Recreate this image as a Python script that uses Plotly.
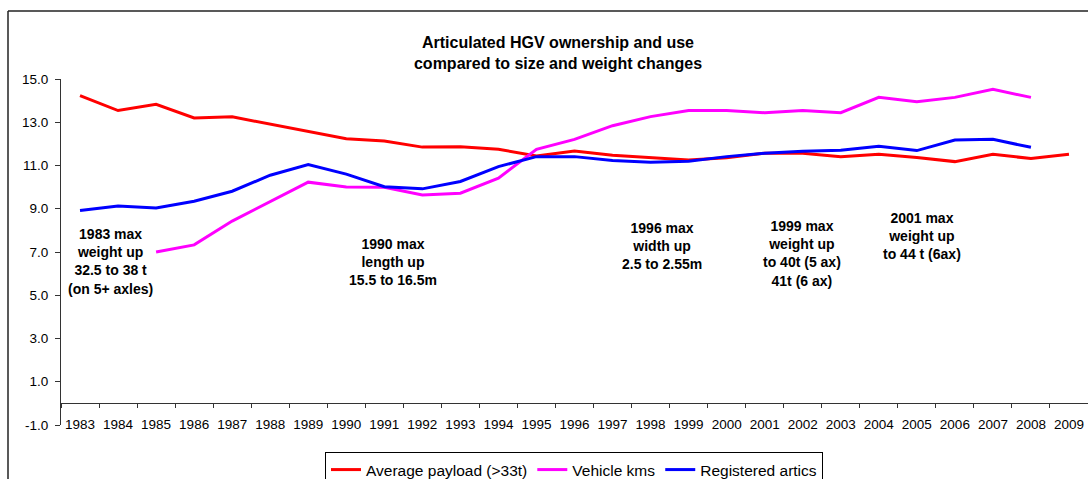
import plotly.graph_objects as go

years = [str(y) for y in range(1983, 2010)]

avg_payload = [14.23, 13.54, 13.83, 13.20, 13.25, 12.91, 12.56, 12.24, 12.13, 11.85,
               11.87, 11.75, 11.44, 11.67, 11.47, 11.38, 11.26, 11.36, 11.57, 11.57,
               11.41, 11.52, 11.37, 11.18, 11.52, 11.32, 11.52]

vehicle_kms = [None, None, 7.00, 7.33, 8.43, 9.33, 10.23, 10.01, 9.99, 9.64,
               9.72, 10.41, 11.75, 12.21, 12.84, 13.26, 13.54, 13.54, 13.44, 13.54,
               13.44, 14.15, 13.95, 14.15, 14.52, 14.15, None]

registered_artics = [8.92, 9.13, 9.03, 9.35, 9.81, 10.55, 11.04, 10.60, 10.02, 9.92,
                     10.26, 10.95, 11.41, 11.41, 11.23, 11.15, 11.20, 11.41, 11.57, 11.66,
                     11.70, 11.89, 11.69, 12.18, 12.21, 11.84, None]

y_ticks = [-1, 1, 3, 5, 7, 9, 11, 13, 15]
y_tick_labels = ["-1.0", "1.0", "3.0", "5.0", "7.0", "9.0", "11.0", "13.0", "15.0"]

series_names = ["Average payload (>33t)", "Vehicle kms", "Registered artics"]
series_colors = ["#FF0000", "#FF00FF", "#0000FF"]

notes = [
    "1983 max<br>weight up<br>32.5 to 38 t<br>(on 5+ axles)",
    "1990 max<br>length up<br>15.5 to 16.5m",
    "1996 max<br>width up<br>2.5 to 2.55m",
    "1999 max<br>weight up<br>to 40t (5 ax)<br>41t (6 ax)",
    "2001 max<br>weight up<br>to 44 t (6ax)",
]
note_x = [0.79, 8.22, 15.31, 18.99, 22.14]
note_y = [6.58, 6.54, 7.28, 6.91, 7.74]

FONT = "Liberation Sans, Arial, sans-serif"
AXIS_COLOR = "#333333"

fig = go.Figure()
for name, vals, col in zip(series_names, [avg_payload, vehicle_kms, registered_artics], series_colors):
    fig.add_trace(go.Scatter(x=years, y=vals, mode="lines", name=name,
                             line=dict(color=col, width=3), connectgaps=False))

annotations = []
for txt, xx, yy in zip(notes, note_x, note_y):
    annotations.append(dict(x=xx, y=yy, xref="x", yref="y", text="<b>" + txt + "</b>",
                            showarrow=False, align="center", xanchor="center", yanchor="middle",
                            font=dict(family=FONT, size=14, color="#000000")))

W, H = 1088, 479
L, R, T, B = 61, 0, 79, 54
pw = W - L - R
ph = H - T - B

def px_to_paper_x(px):
    return (px - L) / pw

def px_to_paper_y(py):
    return (H - B - py) / ph

shapes = [
    dict(type="line", xref="paper", yref="paper",
         x0=px_to_paper_x(8), y0=px_to_paper_y(11), x1=px_to_paper_x(1100), y1=px_to_paper_y(11),
         line=dict(color="#222222", width=1.5)),
    dict(type="line", xref="paper", yref="paper",
         x0=px_to_paper_x(8), y0=px_to_paper_y(11), x1=px_to_paper_x(8), y1=px_to_paper_y(490),
         line=dict(color="#222222", width=1.5)),
]

fig.update_layout(
    width=W, height=H,
    margin=dict(l=L, r=R, t=T, b=B, pad=0, autoexpand=False),
    paper_bgcolor="white", plot_bgcolor="white",
    font=dict(family=FONT, color="#000000"),
    title=dict(text="<b>Articulated HGV ownership and use<br>compared to size and weight changes</b>",
               x=558 / W, xanchor="center", xref="container",
               y=1 - 48 / H, yanchor="middle", yref="container",
               font=dict(family=FONT, size=16, color="#000000")),
    xaxis=dict(type="category", range=[-0.5, 26.5], anchor="free", position=1 / 16,
               showline=True, linecolor=AXIS_COLOR, linewidth=1,
               ticks="outside", ticklen=4, tickcolor=AXIS_COLOR, tickson="boundaries",
               showgrid=False, zeroline=False, ticklabelstandoff=8, tickangle=0,
               automargin=False,
               tickfont=dict(family=FONT, size=13.5, color="#000000")),
    yaxis=dict(range=[-1, 15], tickvals=y_ticks, ticktext=y_tick_labels,
               showline=True, linecolor=AXIS_COLOR, linewidth=1,
               ticks="outside", ticklen=5, tickcolor=AXIS_COLOR,
               showgrid=False, zeroline=False, automargin=False, ticklabelstandoff=4,
               tickfont=dict(family=FONT, size=13.5, color="#000000")),
    legend=dict(orientation="h", x=px_to_paper_x(325), y=px_to_paper_y(452),
                xanchor="left", yanchor="top", bordercolor="#000000", borderwidth=1,
                bgcolor="white", font=dict(family=FONT, size=15.5, color="#000000"),
                itemwidth=30, tracegroupgap=0),
    annotations=annotations,
    shapes=shapes,
    showlegend=True,
)

fig.write_html("out.html", config={"displayModeBar": False},
               post_script="document.body.style.margin='0';document.body.style.overflow='hidden';")
